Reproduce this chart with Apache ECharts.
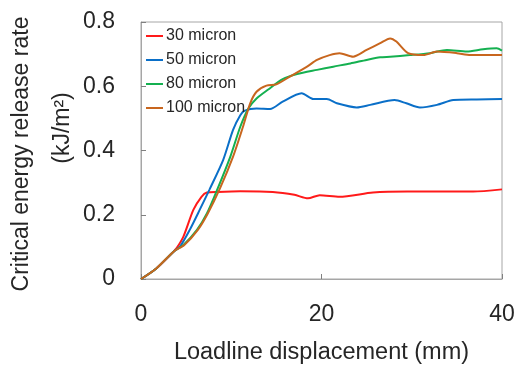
<!DOCTYPE html>
<html><head><meta charset="utf-8">
<script src="https://cdn.jsdelivr.net/npm/echarts@6/dist/echarts.min.js"></script>
<style>html,body{margin:0;padding:0;background:#fff}#c{width:516px;height:367px}</style>
</head><body><div id="c"></div>
<script>
const seriesNames = ['30 micron', '50 micron', '80 micron', '100 micron'];
const xTicks = [0, 20, 40];
const yTicks = [0, 0.2, 0.4, 0.6, 0.8];
const xTitle = 'Loadline displacement (mm)';
const yTitle1 = 'Critical energy release rate';
const yTitle2 = '(kJ/m²)';
const red30 = [[0,0],[1.7,0.033],[3.6,0.085],[3.95,0.096],[4.7,0.132],[5.8,0.215],[6.7,0.256],[7.3,0.269],[8.5,0.271],[11,0.273],[14.6,0.271],[17,0.262],[18.5,0.251],[19.8,0.261],[22,0.256],[25.7,0.269],[29.5,0.272],[33.1,0.272],[36.8,0.272],[40,0.279]];
const blue50 = [[0,0],[1.7,0.033],[3.6,0.085],[4.3,0.1],[5.4,0.153],[6.5,0.215],[7.6,0.279],[9.1,0.37],[10.2,0.464],[11.0,0.51],[11.5,0.524],[12.8,0.531],[14.3,0.529],[15.7,0.552],[17.8,0.578],[19.1,0.56],[20.6,0.56],[21.7,0.547],[23.9,0.534],[25.4,0.542],[28.1,0.557],[29.4,0.547],[30.9,0.534],[32.8,0.542],[34.6,0.557],[37.2,0.559],[40,0.56]];
const green80 = [[0,0],[1.7,0.033],[3.6,0.085],[4.7,0.106],[6.2,0.153],[7.3,0.204],[8.4,0.275],[9.9,0.381],[11,0.474],[11.9,0.531],[12.8,0.562],[14.1,0.59],[15.7,0.622],[17.3,0.638],[19.5,0.651],[21.3,0.661],[23.2,0.671],[25,0.682],[26.5,0.69],[27.6,0.692],[29.8,0.697],[32,0.703],[33.9,0.713],[36.1,0.708],[37.9,0.715],[39.4,0.718],[40,0.711]];
const orange100 = [[0,0],[1.7,0.033],[3.6,0.085],[4.8,0.106],[6.3,0.153],[7.4,0.204],[8.75,0.282],[10.2,0.381],[11.3,0.474],[12.1,0.547],[12.8,0.583],[13.9,0.602],[15.0,0.606],[16.5,0.63],[18.4,0.661],[19.5,0.682],[20.9,0.697],[22.0,0.703],[23.5,0.692],[25,0.713],[26.5,0.734],[27.6,0.749],[28.3,0.739],[29.6,0.703],[31.3,0.697],[32.8,0.708],[35,0.703],[36.5,0.697],[40,0.697]];
const colors = ['#ff1a1a', '#0a6fc8', '#14b050', '#c8661e'];
const data = [red30, blue50, green80, orange100];

const font = 'Liberation Sans, Arial, sans-serif';
const chart = echarts.init(document.getElementById('c'));
chart.setOption({
  animation: false,
  color: colors,
  grid: {left: 141, top: 22, right: 14, bottom: 88, containLabel: false, outerBoundsMode: 'none',
    show: true, borderColor: '#a6a6a6', borderWidth: 1},
  graphic: [
    {type: 'text', x: 22, y: 154, rotation: Math.PI / 2,
      style: {text: yTitle1, align: 'center', verticalAlign: 'middle', fill: '#262626', font: '23px ' + font}},
    {type: 'text', x: 63, y: 128, rotation: Math.PI / 2,
      style: {text: yTitle2, align: 'center', verticalAlign: 'middle', fill: '#262626', font: '23px ' + font}}
  ],
  legend: {
    orient: 'vertical', left: 141, top: 23, itemGap: 8, itemWidth: 17, itemHeight: 2,
    icon: 'rect',
    textStyle: {fontFamily: font, fontSize: 16, color: '#262626', lineHeight: 16, padding: [0,0,0,-2]},
    data: seriesNames
  },
  xAxis: {
    type: 'value', min: xTicks[0], max: xTicks[xTicks.length-1], interval: 20,
    name: xTitle, nameLocation: 'middle', nameGap: 62,
    nameTextStyle: {fontFamily: font, fontSize: 23.5, color: '#262626'},
    axisLine: {lineStyle: {color: '#a6a6a6'}},
    axisTick: {inside: true, length: 5, lineStyle: {color: '#808080'}},
    splitLine: {show: false},
    axisLabel: {fontFamily: font, fontSize: 23, color: '#262626', margin: 24}
  },
  yAxis: {
    type: 'value', min: yTicks[0], max: yTicks[yTicks.length-1], interval: 0.2,
    axisLine: {lineStyle: {color: '#a6a6a6'}},
    axisTick: {inside: true, length: 5, lineStyle: {color: '#808080'}},
    splitLine: {show: false},
    axisLabel: {fontFamily: font, fontSize: 23, color: '#262626', margin: 26,
      formatter: v => v === 0 ? '0' : v.toFixed(1)}
  },
  series: seriesNames.map((n, i) => ({
    name: n, type: 'line', data: data[i], showSymbol: false, symbol: 'none',
    smooth: 0.25, lineStyle: {width: 2, color: colors[i]}, itemStyle: {color: colors[i]}
  }))
});
</script></body></html>
